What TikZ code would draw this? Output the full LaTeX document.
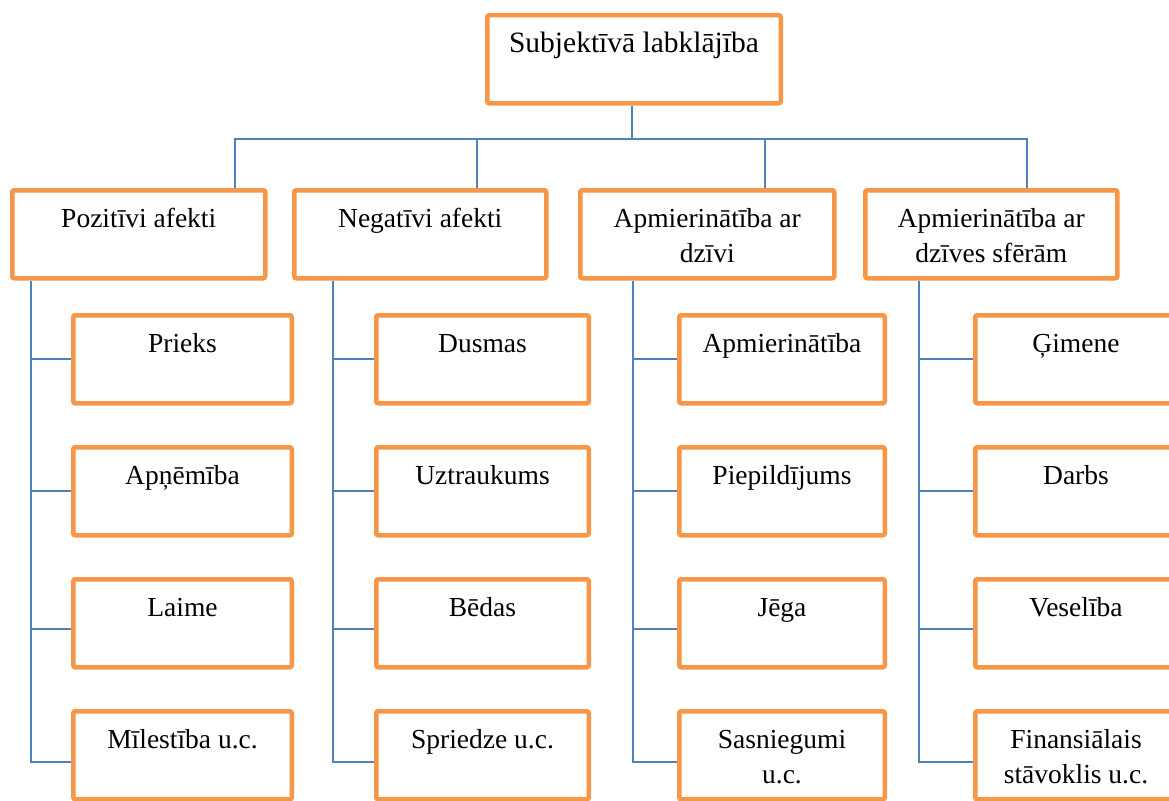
\documentclass[tikz,border=0pt]{standalone}
\usepackage{fontspec}
\setmainfont{Liberation Serif}
\usetikzlibrary{positioning}
\definecolor{boxorange}{HTML}{F79646}
\definecolor{lineblue}{HTML}{4F81BD}

\begin{document}
\begin{tikzpicture}[x=1pt, y=-1pt,
    every node/.style={font=\fontsize{27.5}{35}\selectfont},
    obox/.style={rectangle, rounded corners=2pt, draw=boxorange, line width=4.5pt,
                 fill=white, anchor=north west, inner sep=0pt, align=flush center,
                 text height=37.5pt, text depth=50.5pt},
    link/.style={draw=lineblue, line width=1.6pt},
]
    \useasboundingbox (0,0) rectangle (1169,800);
    %% top box
    \node[obox, text width=293.5pt, font=\fontsize{29.5}{35}\selectfont] (subj) at (485,13)
        {Subjektīvā labklājība};
    %% four groups
    \node[obox, text width=253pt] (poz) at (10,188) {Pozitīvi afekti};
    \node[obox, text width=252pt] (neg) at (292,188) {Negatīvi afekti};
    \node[obox, text width=254pt] (dzi) at (578,188) {Apmierinātība ar\\dzīvi};
    \node[obox, text width=252pt] (sfe) at (863,188) {Apmierinātība ar\\dzīves sfērām};
    %% children, column 1
    \node[obox, text width=218.5pt] (prieks) at (71,313) {Prieks};
    \node[obox, text width=218.5pt] (apnemiba) at (71,445) {Apņēmība};
    \node[obox, text width=218.5pt] (laime) at (71,577) {Laime};
    \node[obox, text width=218.5pt] (milestiba) at (71,709) {Mīlestība u.c.};
    %% column 2
    \node[obox, text width=212.5pt] (dusmas) at (374,313) {Dusmas};
    \node[obox, text width=212.5pt] (uztr) at (374,445) {Uztraukums};
    \node[obox, text width=212.5pt] (bedas) at (374,577) {Bēdas};
    \node[obox, text width=212.5pt] (spriedze) at (374,709) {Spriedze u.c.};
    %% column 3
    \node[obox, text width=205.5pt] (apm) at (677,313) {Apmierinātība};
    \node[obox, text width=205.5pt] (piep) at (677,445) {Piepildījums};
    \node[obox, text width=205.5pt] (jega) at (677,577) {Jēga};
    \node[obox, text width=205.5pt] (sasn) at (677,709) {Sasniegumi\\u.c.};
    %% column 4
    \node[obox, text width=201.5pt] (gim) at (973,313) {Ģimene};
    \node[obox, text width=201.5pt] (darbs) at (973,445) {Darbs};
    \node[obox, text width=201.5pt] (ves) at (973,577) {Veselība};
    \node[obox, text width=201.5pt] (fin) at (973,709) {Finansiālais\\stāvoklis u.c.};

    %% bus from the top box to the groups
    \coordinate (bus) at (0,139);
    \coordinate (s0) at ([xshift=147pt]subj.south west);
    \coordinate (d1) at ([xshift=225pt]poz.north west);
    \coordinate (d2) at ([xshift=185pt]neg.north west);
    \coordinate (d3) at ([xshift=187pt]dzi.north west);
    \coordinate (d4) at ([xshift=164pt]sfe.north west);
    \draw[link] (s0) -- (s0 |- bus);
    \draw[link] (d1) |- (bus -| d4) -- (d4);
    \draw[link] (d2) -- (d2 |- bus);
    \draw[link] (d3) -- (d3 |- bus);

    %% trunks and branches
    \foreach \grp/\dx/\a/\b/\c/\d in {poz/21/prieks/apnemiba/laime/milestiba,
            neg/41/dusmas/uztr/bedas/spriedze, dzi/55/apm/piep/jega/sasn,
            sfe/56/gim/darbs/ves/fin}{
        \coordinate (t) at ([xshift=\dx pt]\grp.south west);
        \draw[link] (t) |- (\a.west);
        \draw[link] (t) |- (\b.west);
        \draw[link] (t) |- ([yshift=-6pt]\c.west);
        \draw[link] (t) |- ([yshift=-6.5pt]\d.west);
    }
\end{tikzpicture}
\end{document}
